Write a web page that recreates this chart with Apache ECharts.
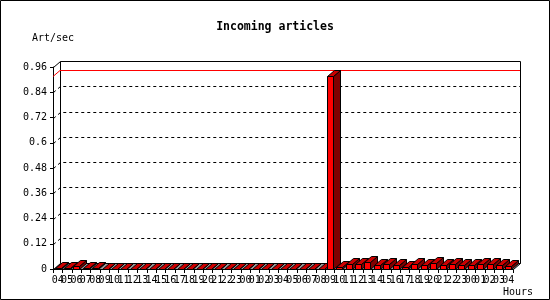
<!DOCTYPE html>
<html>
<head>
<meta charset="utf-8">
<script src="https://cdn.jsdelivr.net/npm/echarts@6/dist/echarts.min.js"></script>
<style>
html,body{margin:0;padding:0;background:#fff;}
#c{width:550px;height:300px;}
</style>
</head>
<body>
<div id="c"></div>
<script>
// ---- data ----
const hours = ['04','05','06','07','08','09','10','11','12','13','14','15','16','17','18','19','20','21','22','23',
  '00','01','02','03','04','05','06','07','08','09','10','11','12','13','14','15','16','17','18','19','20','21','22','23',
  '00','01','02','03','04'];
const artPerSec = [0.006,0.006,0.014,0.006,0.003,
  0,0,0,0,0,0,0,0,0,0,0,0,0,0,0,
  0,0,0,0,0,0,0,0,0,
  0.915,0.008,0.022,0.022,0.032,0.018,0.022,0.018,0.011,0.022,0.018,0.027,0.018,0.022,0.018,
  0.018,0.022,0.022,0.018,0.013];
const gridTicks = [0.12,0.24,0.36,0.48,0.6,0.72,0.84];
const yMin = 0, yMax = 0.96, yStep = 0.12;

// ---- drawing ----
const DX = 7, DY = -6, BAR_W = 6;
const FONT = 'DejaVu Sans Mono';
const chart = echarts.init(document.getElementById('c'), null, {renderer: 'canvas'});
const maxRate = Math.max.apply(null, artPerSec);

function r(v){ return Math.round(v) + 0.5; }

const option = {
  backgroundColor: '#fff',
  animation: false,
  title: {
    text: 'Incoming articles', left: 'center', top: 16,
    textStyle: {fontFamily: FONT, fontWeight: 'bold', fontSize: 11.5, color: '#000'}
  },
  graphic: [{
    type: 'rect', shape: {x: 0.5, y: 0.5, width: 549, height: 299},
    style: {fill: null, stroke: '#000', lineWidth: 1}, silent: true
  }],
  grid: {left: 53, top: 67, width: 460, height: 202, containLabel: false},
  xAxis: {
    type: 'category', data: hours, boundaryGap: true,
    name: 'Hours', nameLocation: 'end', nameGap: 5,
    nameTextStyle: {fontFamily: FONT, fontSize: 10, color: '#000', align: 'center', verticalAlign: 'top', padding: [18, 0, 0, 0]},
    axisLine: {show: true, lineStyle: {color: '#000', width: 1}},
    axisTick: {show: true, length: 4, lineStyle: {color: '#000'}},
    axisLabel: {interval: 0, fontFamily: FONT, fontSize: 10, color: '#000', margin: 6},
    splitLine: {show: false}
  },
  yAxis: {
    type: 'value', min: yMin, max: yMax, interval: yStep,
    name: 'Art/sec', nameLocation: 'end', nameGap: 24,
    nameTextStyle: {fontFamily: FONT, fontSize: 10, color: '#000', align: 'center'},
    axisLine: {show: true, lineStyle: {color: '#000', width: 1}},
    axisTick: {show: true, length: 3, lineStyle: {color: '#000'}},
    axisLabel: {fontFamily: FONT, fontSize: 10, color: '#000', margin: 6,
      formatter: v => (Math.round(v * 100) / 100).toString()},
    splitLine: {show: false}
  },
  series: [
    // floor + back frame
    {
      type: 'custom', z: 1, silent: true, data: [0],
      renderItem: function (params, api) {
        const cs = params.coordSys;
        const x0 = cs.x, x1 = cs.x + cs.width, yb = cs.y + cs.height, yt = cs.y;
        return {type: 'group', children: [
          {type: 'polygon', shape: {points: [[r(x0), r(yb)], [r(x1), r(yb)], [r(x1 + DX), r(yb + DY)], [r(x0 + DX), r(yb + DY)]]},
            style: {fill: '#999999', stroke: '#000', lineWidth: 1}},
          {type: 'polyline', shape: {points: [[r(x0), r(yt)], [r(x0 + DX), r(yt + DY)], [r(x1 + DX), r(yt + DY)], [r(x1 + DX), r(yb + DY)]]},
            style: {fill: null, stroke: '#000', lineWidth: 1}},
          {type: 'line', shape: {x1: r(x0 + DX), y1: r(yt + DY), x2: r(x0 + DX), y2: r(yb + DY)},
            style: {stroke: '#000', lineWidth: 1}}
        ]};
      }
    },
    // dashed grid lines (front axis -> back wall)
    {
      type: 'custom', z: 2, silent: true,
      data: gridTicks.map(v => [v]),
      renderItem: function (params, api) {
        const cs = params.coordSys;
        const p = api.coord([0, api.value(0)]);
        const y = p[1];
        const x0 = cs.x, x1 = cs.x + cs.width;
        return {type: 'polyline', shape: {points: [[r(x0), r(y)], [r(x0 + DX), r(y + DY)], [r(x1 + DX), r(y + DY)]]},
          style: {fill: null, stroke: '#000', lineWidth: 1, lineDash: [3, 3]}};
      }
    },
    // max line
    {
      type: 'custom', z: 3, silent: true, data: [[maxRate]],
      renderItem: function (params, api) {
        const cs = params.coordSys;
        const y = api.coord([0, api.value(0)])[1];
        const x0 = cs.x, x1 = cs.x + cs.width;
        return {type: 'polyline', shape: {points: [[x0, r(y)], [x0 + DX, r(y + DY)], [x1 + DX, r(y + DY)]]},
          style: {fill: null, stroke: '#ff0000', lineWidth: 1}};
      }
    },
    // 3D bars
    {
      type: 'custom', z: 4, silent: true,
      data: artPerSec.map((v, i) => [i, v]),
      renderItem: function (params, api) {
        const idx = api.value(0), val = api.value(1);
        const top = api.coord([idx, val]);
        const base = api.coord([idx, 0]);
        const xl = Math.round(top[0] - BAR_W / 2) + 0.5;
        const xr = xl + BAR_W;
        const yt = Math.round(top[1]) + 0.5;
        const yb = Math.round(base[1]) + 0.5;
        const children = [];
        children.push({type: 'polygon', shape: {points: [[xr, yt], [xr + DX, yt + DY], [xr + DX, yb + DY], [xr, yb]]},
          style: {fill: '#800000', stroke: '#000', lineWidth: 1}});
        children.push({type: 'polygon', shape: {points: [[xl, yt], [xr, yt], [xr + DX, yt + DY], [xl + DX, yt + DY]]},
          style: {fill: '#cc0000', stroke: '#000', lineWidth: 1}});
        if (yb - yt >= 1) {
          children.push({type: 'rect', shape: {x: xl, y: yt, width: BAR_W, height: yb - yt},
            style: {fill: '#ff0000', stroke: '#000', lineWidth: 1}});
        }
        return {type: 'group', children: children};
      }
    }
  ]
};
chart.setOption(option);
</script>
</body>
</html>
